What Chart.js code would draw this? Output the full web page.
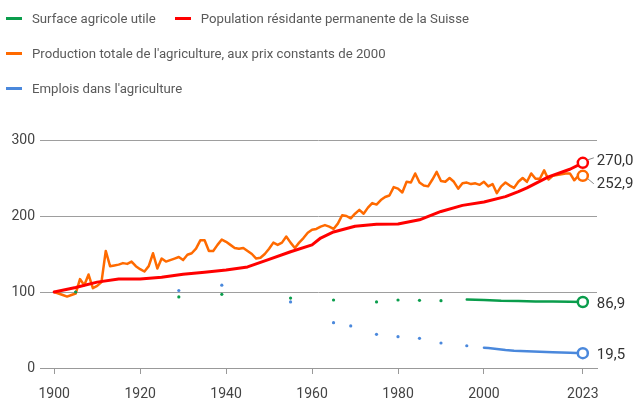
<!DOCTYPE html>
<html>
<head>
<meta charset="utf-8">
<script src="https://cdn.jsdelivr.net/npm/chart.js@4.4.0/dist/chart.umd.min.js"></script>
<style>
	body { margin: 0; background: #fff; font-family: Roboto, sans-serif; }
	#wrap { position: relative; width: 637px; height: 400px; }
	#legend { position: absolute; left: 6px; top: 8px; width: 560px; display: flex; flex-wrap: wrap; column-gap: 19px; row-gap: 15px; }
	.item { display: flex; align-items: center; height: 20px; font-size: 13.2px; color: #5a5a5a; white-space: nowrap; }
	.item i { display: inline-block; width: 16px; height: 3px; margin-right: 10px; }
</style>
</head>
<body>
<div id="wrap">
	<canvas id="myChart" width="637" height="400"></canvas>
	<div id="legend"></div>
</div>
<script>
// categories / series
var seriesLabels = ['Surface agricole utile', 'Population résidante permanente de la Suisse', "Production totale de l'agriculture, aux prix constants de 2000", "Emplois dans l'agriculture"];
var seriesColors = ['#0a9d4c', '#ff0000', '#ff6a00', '#4a88dc'];

// Surface agricole utile (index)
var surfaceDotYears = [1905, 1929, 1939, 1955, 1965, 1975, 1980, 1985, 1990];
var surfaceDotValues = [100, 93.5, 97, 92, 89.5, 87, 89.5, 89, 88.6];
var surfaceLineYears = [1996, 2000, 2004, 2008, 2012, 2016, 2020, 2023];
var surfaceLineValues = [90, 89.5, 88.4, 88, 87.6, 87.4, 87.2, 86.9];

// Population résidante permanente
var popYears = [1900, 1905, 1910, 1915, 1920, 1925, 1930, 1935, 1940, 1945, 1950, 1955, 1960, 1962, 1965, 1970, 1975, 1980, 1985, 1990, 1995, 2000, 2005, 2008, 2010, 2015, 2020, 2023];
var popValues = [100, 106, 113, 117, 117, 119.5, 123.5, 126, 129, 133, 143, 153, 162, 171, 179, 186.5, 189, 189.5, 195, 206, 214, 218.5, 225.5, 232, 237, 251.5, 261.5, 270];

// Production totale, une valeur par an depuis 1900
var prodStart = 1900;
var prodValues = [
	100, 98, 96, 94, 96, 98, 117, 109, 123, 105,
	108, 113, 154, 134, 135, 136, 138, 137, 140, 134,
	130, 127, 134, 151, 131, 144, 140, 142, 144, 146,
	142, 149, 151, 157, 168, 168, 154, 154, 162, 169,
	166, 162, 158, 157, 158, 154, 150, 144, 145, 150,
	157, 165, 162, 165, 173, 165, 158, 165, 171, 178,
	182, 183, 186, 188, 186, 183, 190, 201, 200, 197,
	203, 208, 203, 211, 217, 215, 221, 225, 227, 238,
	236, 231, 245, 244, 256, 244, 240, 239, 248, 258,
	246, 245, 250, 245, 236, 243, 244, 242, 243, 241,
	245, 239, 242, 230, 239, 244, 240, 237, 245, 250,
	245, 256, 249, 249, 260, 248, 253, 254, 255, 256,
	256, 247, 253, 252.9
];

// Emplois dans l'agriculture (index)
var jobsDotYears = [1905, 1929, 1939, 1955, 1965, 1969, 1975, 1980, 1985, 1990, 1996];
var jobsDotValues = [100, 102, 109, 87, 59.6, 55.3, 44.3, 41.2, 39, 32.9, 29.3];
var jobsLineYears = [2000, 2001, 2002, 2003, 2004, 2005, 2007, 2010, 2013, 2016, 2020, 2023];
var jobsLineValues = [26.7, 26.2, 25.6, 25, 24.4, 23.6, 22.8, 22, 21.3, 20.7, 20, 19.5];

var yTicks = [0, 100, 200, 300];
var xTicks = [1900, 1920, 1940, 1960, 1980, 2000, 2023];

function pts(xs, ys) {
	return xs.map(function (x, i) { return { x: x, y: ys[i] }; });
}
var prodPoints = prodValues.map(function (v, i) { return { x: prodStart + i, y: v }; });

function lastOnly(c) {
	return c.dataIndex === c.dataset.data.length - 1 ? 5 : 0;
}
function lineSet(label, color, data, width, end) {
	return {
		label: label, data: data, borderColor: color, borderWidth: width,
		pointRadius: lastOnly, pointHoverRadius: 0, pointBackgroundColor: '#fff',
		pointBorderColor: color, pointBorderWidth: 2.5, borderJoinStyle: 'round',
		borderCapStyle: 'round', tension: 0, endLabel: end
	};
}
function dotSet(color, data) {
	return {
		label: '', data: data, showLine: false, pointRadius: 1.6, pointHoverRadius: 0,
		pointBackgroundColor: color, pointBorderWidth: 0
	};
}

// legend in HTML
var legendEl = document.getElementById('legend');
seriesLabels.forEach(function (l, i) {
	var d = document.createElement('div');
	d.className = 'item';
	d.innerHTML = '<i style="background:' + seriesColors[i] + '"></i>';
	d.appendChild(document.createTextNode(l));
	legendEl.appendChild(d);
});

var endLabels = {
	id: 'endLabels',
	afterDatasetsDraw: function (chart) {
		var ctx = chart.ctx;
		chart.data.datasets.forEach(function (ds, i) {
			if (!ds.endLabel) return;
			var meta = chart.getDatasetMeta(i);
			var pt = meta.data[meta.data.length - 1];
			var v = ds.data[ds.data.length - 1].y;
			var ty = pt.y + ds.endLabel.dy;
			ctx.save();
			if (ds.endLabel.leader) {
				ctx.strokeStyle = '#888';
				ctx.lineWidth = 1;
				ctx.beginPath();
				ctx.moveTo(pt.x + 5, pt.y + (ds.endLabel.dy < 0 ? -3 : 3));
				ctx.lineTo(pt.x + 11, ty + (ds.endLabel.dy < 0 ? -3 : 0));
				ctx.stroke();
			}
			ctx.font = '15px Roboto';
			ctx.fillStyle = '#333';
			ctx.textBaseline = 'middle';
			ctx.fillText(v.toFixed(1).replace('.', ','), pt.x + 14, ty);
			ctx.restore();
		});
	}
};

document.addEventListener("DOMContentLoaded", function (event) {
	var ctx = document.getElementById('myChart');
	var myChart = new Chart(ctx, {
		type: 'line',
		data: {
			datasets: [
				lineSet(seriesLabels[0], seriesColors[0], pts(surfaceLineYears, surfaceLineValues), 2.5, { dy: 2 }),
				dotSet(seriesColors[0], pts(surfaceDotYears, surfaceDotValues)),
				lineSet(seriesLabels[1], seriesColors[1], pts(popYears, popValues), 3, { dy: -2, leader: true }),
				lineSet(seriesLabels[2], seriesColors[2], prodPoints, 2.5, { dy: 8, leader: true }),
				lineSet(seriesLabels[3], seriesColors[3], pts(jobsLineYears, jobsLineValues), 2.5, { dy: 2 }),
				dotSet(seriesColors[3], pts(jobsDotYears, jobsDotValues))
			]
		},
		options: {
			responsive: false,
			animation: false,
			layout: { padding: { top: 140, right: 40, left: 0, bottom: 0 } },
			plugins: { legend: { display: false }, tooltip: { enabled: false } },
			scales: {
				x: {
					type: 'linear',
					min: 1896.7,
					max: 2026.3,
					afterBuildTicks: function (axis) {
						axis.ticks = xTicks.map(function (v) { return { value: v }; });
					},
					afterFit: function (axis) { axis.height = 32; },
					grid: { drawOnChartArea: false, drawTicks: true, tickLength: 6, color: '#999', lineWidth: 1 },
					border: { color: '#999', width: 1 },
					ticks: {
						padding: 12, color: '#444', font: { family: 'Roboto', size: 14 },
						maxRotation: 0, autoSkip: false,
						callback: function (v) { return String(v); }
					}
				},
				y: {
					min: 0,
					max: 300,
					afterBuildTicks: function (axis) {
						axis.ticks = yTicks.map(function (v) { return { value: v }; });
					},
					afterFit: function (axis) { axis.width = 40; },
					grid: { color: '#9e9e9e', lineWidth: 1, drawTicks: false },
					border: { display: false },
					ticks: { padding: 5, color: '#444', font: { family: 'Roboto', size: 14 } }
				}
			}
		},
		plugins: [endLabels]
	});
});
</script>
</body>
</html>
